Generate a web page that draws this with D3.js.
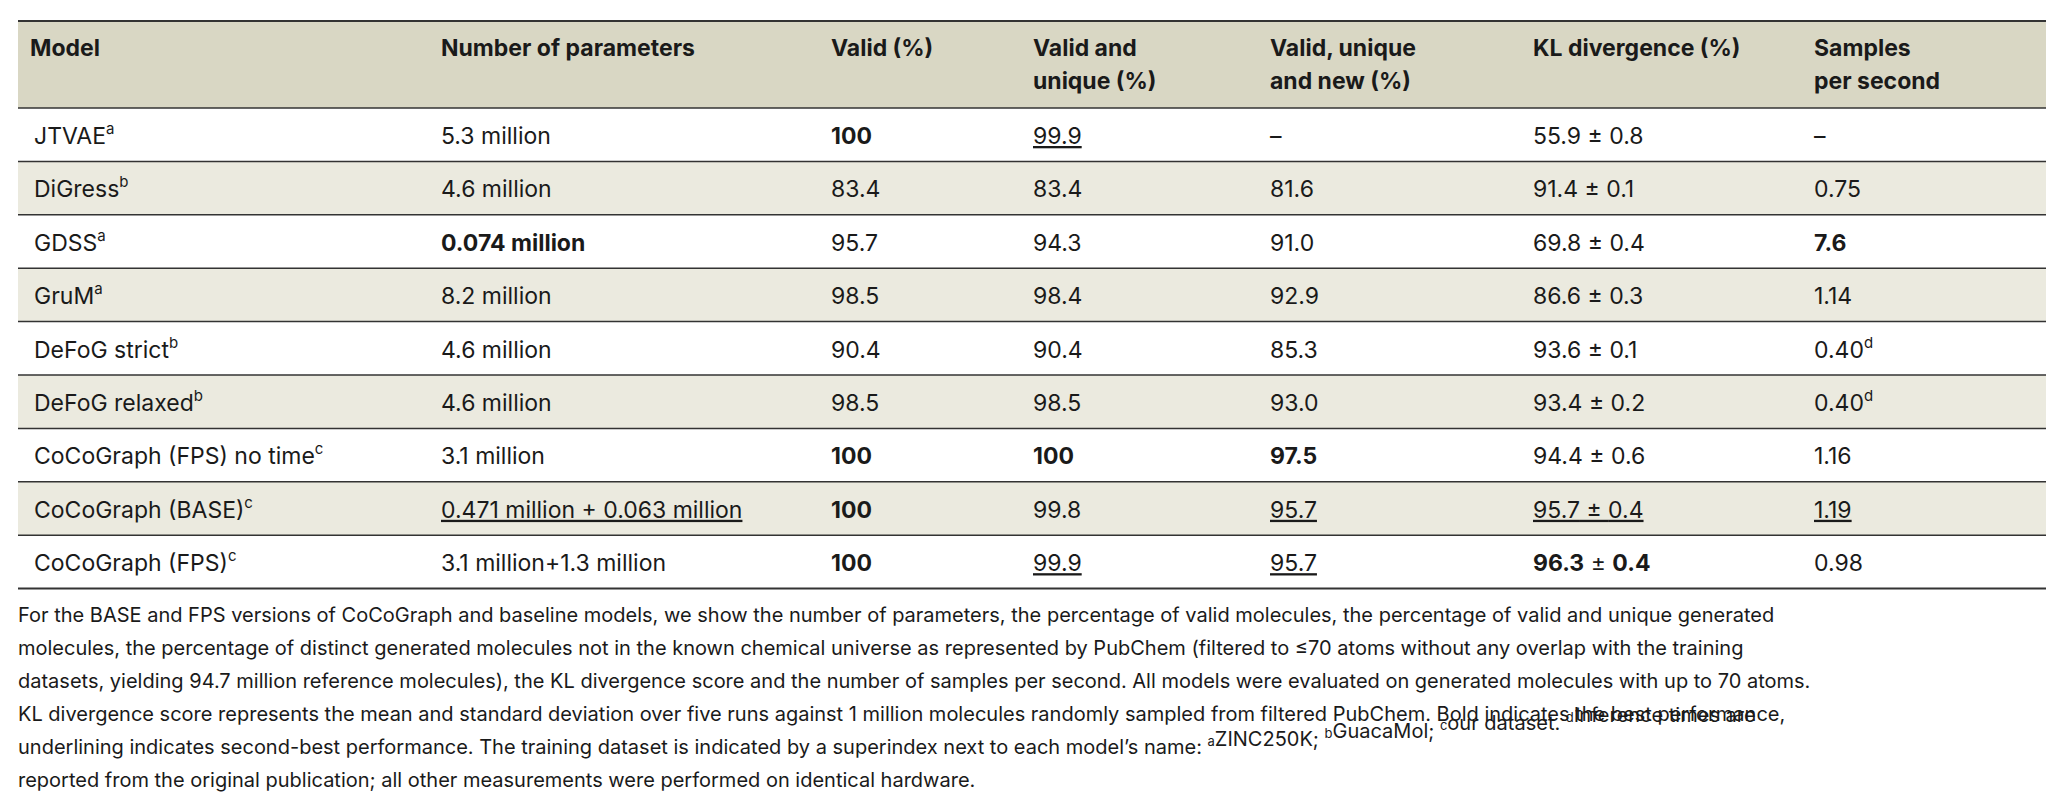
<!DOCTYPE html>
<html><head><meta charset="utf-8">
<script src="https://cdn.jsdelivr.net/npm/d3@7"></script>
<style>body{margin:0;background:#fff}text{font-family:Inter,"Noto Sans",sans-serif;fill:#1a1a1a}</style>
</head><body><svg id="t" width="2068" height="796"></svg>
<script>
// column headers (one array per line)
var headers = [["Model"],["Number of parameters"],["Valid (%)"],["Valid and","unique (%)"],["Valid, unique","and new (%)"],["KL divergence (%)"],["Samples","per second"]];
var models = ["JTVAE","DiGress","GDSS","GruM","DeFoG strict","DeFoG relaxed","CoCoGraph (FPS) no time","CoCoGraph (BASE)","CoCoGraph (FPS)"];
var modelSup = ["a","b","a","a","b","b","c","c","c"];
// cell text; "*" prefix = bold, "_" prefix = underline
var params = ["5.3 million","4.6 million","*0.074 million","8.2 million","4.6 million","4.6 million","3.1 million","_0.471 million + 0.063 million","3.1 million+1.3 million"];
var valid = ["*100","83.4","95.7","98.5","90.4","98.5","*100","*100","*100"];
var validUnique = ["_99.9","83.4","94.3","98.4","90.4","98.5","*100","99.8","_99.9"];
var validUniqueNew = ["–","81.6","91.0","92.9","85.3","93.0","*97.5","_95.7","_95.7"];
var klMean = ["55.9","91.4","69.8","86.6","93.6","93.4","94.4","_95.7","*96.3"];
var klSd = ["0.8","0.1","0.4","0.3","0.1","0.2","0.6","_0.4","*0.4"];
var samples = ["–","0.75","*7.6","1.14","0.40","0.40","1.16","_1.19","0.98"];
var samplesSup = ["","","","","d","d","","",""];
var caption = [
 [["For the BASE and FPS versions of CoCoGraph and baseline models, we show the number of parameters, the percentage of valid molecules, the percentage of valid and unique generated"]],
 [["molecules, the percentage of distinct generated molecules not in the known chemical universe as represented by PubChem (filtered to ≤70 atoms without any overlap with the training"]],
 [["datasets, yielding 94.7 million reference molecules), the KL divergence score and the number of samples per second. All models were evaluated on generated molecules with up to 70 atoms."]],
 [["KL divergence score represents the mean and standard deviation over five runs against 1 million molecules randomly sampled from filtered PubChem. Bold indicates the best performance,"]],
 [["underlining indicates second-best performance. The training dataset is indicated by a superindex next to each model’s name: "],["a",1],["ZINC250K; "],["b",1],["GuacaMol; "],["c",1],["our dataset. "],["d",1],["Inference times are"]],
 [["reported from the original publication; all other measurements were performed on identical hardware."]]
];

var colX = [30,441,831,1033,1270,1533,1814];
var left = 18, right = 2046, topY = 21, headH = 87;
var svg = d3.select("#t");
var y = d3.scaleBand().domain(d3.range(models.length)).range([topY+headH, topY+headH+53.4*models.length]);

svg.append("rect").attr("x",left).attr("y",topY).attr("width",right-left).attr("height",headH).attr("fill","#d9d7c4");
svg.selectAll("rect.row").data(models).enter().append("rect").attr("class","row")
  .attr("x",left).attr("y",function(d,i){return y(i);}).attr("width",right-left).attr("height",y.bandwidth())
  .attr("fill",function(d,i){return i%2 ? "#ebeadf" : "#fff";});

headers.forEach(function(h,c){
  h.forEach(function(line,k){
    svg.append("text").attr("x",colX[c]).attr("y",topY+35+k*33).attr("font-size",23).attr("font-weight",700).text(line);
  });
});

function cell(x, yy, parts){
  var t = svg.append("text").attr("x",x).attr("y",yy).attr("font-size",23);
  parts.forEach(function(p){
    if(Array.isArray(p)){
      t.append("tspan").attr("font-size",15).attr("dy",-10).text(p[0]);
      t.append("tspan").attr("dy",10).text("\u200a");
      return;
    }
    var s = p, bold = false, und = false;
    if(s[0]=="*"){bold=true; s=s.slice(1);}
    if(s[0]=="_"){und=true; s=s.slice(1);}
    var ts = t.append("tspan").text(s);
    if(bold) ts.attr("font-weight",700);
    if(und) ts.attr("text-decoration","underline");
  });
  return t;
}

models.forEach(function(m,i){
  var yy = y(i)+36;
  cell(34, yy, [m,[modelSup[i]]]);
  cell(colX[1], yy, [params[i]]);
  cell(colX[2], yy, [valid[i]]);
  cell(colX[3], yy, [validUnique[i]]);
  cell(colX[4], yy, [validUniqueNew[i]]);
  var pm = klMean[i][0]=="_" ? "_ ± " : " ± ";
  cell(colX[5], yy, [klMean[i], pm, klSd[i]]);
  cell(colX[6], yy, samplesSup[i] ? [samples[i],[samplesSup[i]]] : [samples[i]]);
});

// rules
var ys = [topY+headH].concat(d3.range(1,models.length).map(function(i){return y(i);}));
svg.append("line").attr("x1",left).attr("x2",right).attr("y1",topY).attr("y2",topY).attr("stroke","#333").attr("stroke-width",2);
svg.selectAll("line.r").data(ys).enter().append("line").attr("class","r")
  .attr("x1",left).attr("x2",right).attr("y1",function(d){return d;}).attr("y2",function(d){return d;})
  .attr("stroke","#333").attr("stroke-width",1.5);
var bottom = y(models.length-1)+y.bandwidth();
svg.append("line").attr("x1",left).attr("x2",right).attr("y1",bottom).attr("y2",bottom).attr("stroke","#333").attr("stroke-width",2);

caption.forEach(function(line,k){
  var t = svg.append("text").attr("x",left).attr("y",bottom+33+k*33).attr("font-size",20);
  line.forEach(function(p){
    if(p[1]){
      t.append("tspan").attr("font-size",13).attr("dy",-8).text(p[0]);
      t.append("tspan").attr("dy",8).text("");
    } else t.append("tspan").text(p[0]);
  });
});
</script></body></html>
